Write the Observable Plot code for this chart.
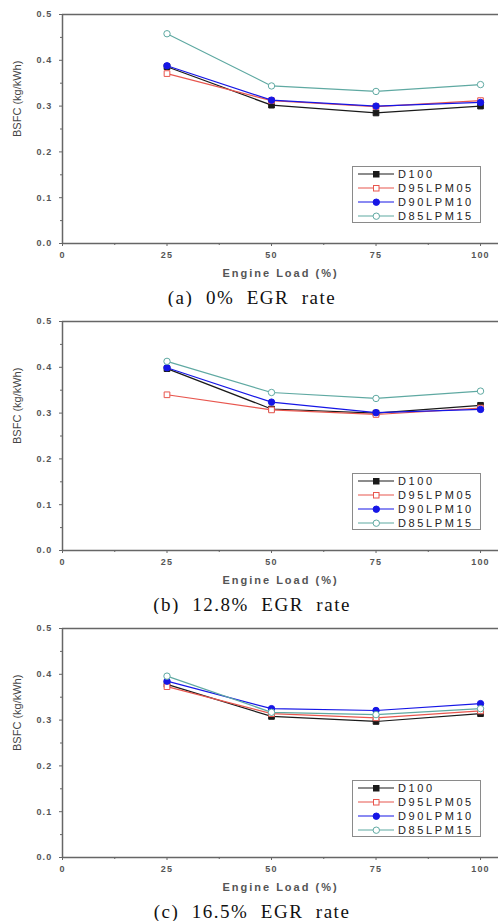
<!DOCTYPE html>
<html><head><meta charset="utf-8">
<script src="https://cdn.jsdelivr.net/npm/d3@7"></script>
<script src="https://cdn.jsdelivr.net/npm/@observablehq/plot@0.6"></script>
<style>
body{margin:0;background:#fff;width:498px;overflow:hidden}
.panel{position:relative;width:498px;height:307px;overflow:hidden}
.caption{position:absolute;left:6px;top:286px;width:492px;height:24px;line-height:24px;text-align:center;font-family:"Liberation Serif","Times New Roman",serif;font-size:19px;letter-spacing:1.5px;white-space:pre;color:#111}
.legend{position:absolute;left:352px;top:166px;width:127px;height:55px;border:1px solid #8a8a8a;background:#fff}
.legend .row{position:absolute;left:0;height:14px;width:127px}
.legend .lab{position:absolute;left:45px;top:0;height:14px;line-height:14px;font-family:"Liberation Sans",Arial,sans-serif;font-size:11px;letter-spacing:2.6px;color:#222;white-space:nowrap}
</style></head><body><div id="root"></div>
<script>
const loads = [25, 50, 75, 100];
const seriesNames = ["D100", "D95LPM05", "D90LPM10", "D85LPM15"];
const seriesColors = ["#1a1a1a", "#e8564e", "#1616e6", "#5fa9a2"];
const seriesSymbols = ["square", "square", "circle", "circle"];
const seriesFilled = [true, false, true, false];
const captions = ["(a)  0%  EGR  rate", "(b)  12.8%  EGR  rate", "(c)  16.5%  EGR  rate"];
const xTicks = [0, 25, 50, 75, 100];
const xMinorTicks = [12.5, 37.5, 62.5, 87.5];
const yTicks = [0, 0.1, 0.2, 0.3, 0.4, 0.5];
const yMinorTicks = [0.05, 0.15, 0.25, 0.35, 0.45];
const xLabel = "Engine Load (%)";
const yLabel = "BSFC (kg/kWh)";

// BSFC per series (order of seriesNames), at each load
const egr0 = [
  [0.386, 0.302, 0.285, 0.300],
  [0.371, 0.312, 0.299, 0.312],
  [0.388, 0.313, 0.300, 0.308],
  [0.458, 0.344, 0.332, 0.347]
];
const egr128 = [
  [0.397, 0.309, 0.300, 0.317],
  [0.340, 0.307, 0.297, 0.311],
  [0.399, 0.324, 0.301, 0.308],
  [0.413, 0.345, 0.332, 0.348]
];
const egr165 = [
  [0.378, 0.308, 0.297, 0.314],
  [0.373, 0.314, 0.305, 0.320],
  [0.385, 0.325, 0.321, 0.336],
  [0.396, 0.317, 0.312, 0.325]
];
const panels = [egr0, egr128, egr165];

const root = document.getElementById("root");
const axisColor = "#666";
const fmt = d3.format(".1f");

panels.forEach((panelData, pi) => {
  const div = document.createElement("div");
  div.className = "panel";
  root.appendChild(div);

  const marks = [
    Plot.ruleY([0.5], {stroke: axisColor, strokeWidth: 1.5}),
    Plot.ruleY([0], {stroke: axisColor, strokeWidth: 1.5}),
    Plot.ruleX([0], {stroke: axisColor, strokeWidth: 1.5}),
    Plot.axisX(xTicks, {tickSize: 3, tickPadding: 5, tickFormat: d => String(d), label: null, fontSize: 9, fontWeight: "bold", stroke: axisColor, fill: "#555"}),
    Plot.axisX(xMinorTicks, {tickSize: 2, tickFormat: () => "", label: null, stroke: axisColor}),
    Plot.axisY(yTicks, {tickSize: 3, tickPadding: 7, tickFormat: fmt, label: null, fontSize: 9, fontWeight: "bold", stroke: axisColor, fill: "#555"}),
    Plot.axisY(yMinorTicks, {tickSize: 2, tickFormat: () => "", label: null, stroke: axisColor}),
    Plot.text([xLabel], {frameAnchor: "bottom", dy: 30, lineAnchor: "middle", fontSize: 11, fontWeight: "bold", fill: "#555"}),
    Plot.text([yLabel], {frameAnchor: "left", rotate: -90, dx: -45, dy: 8, lineAnchor: "middle", fontSize: 11, fill: "#444"})
  ];
  seriesNames.forEach((name, si) => {
    const rows = loads.map((x, i) => ({load: x, bsfc: panelData[si][i]}));
    marks.push(Plot.line(rows, {x: "load", y: "bsfc", stroke: seriesColors[si], strokeWidth: 1.2}));
    marks.push(Plot.dot(rows, {x: "load", y: "bsfc", symbol: seriesSymbols[si], r: 3.2,
      fill: seriesFilled[si] ? seriesColors[si] : "white", stroke: seriesColors[si], strokeWidth: 1}));
  });

  const svg = Plot.plot({
    width: 498, height: 283,
    marginLeft: 62, marginRight: 0, marginTop: 14, marginBottom: 40,
    style: {fontFamily: "'Liberation Sans', Arial, sans-serif", background: "#fff", overflow: "hidden"},
    x: {domain: [0, 104.3], axis: null},
    y: {domain: [0, 0.5], axis: null},
    marks
  });
  div.appendChild(svg);
  d3.select(svg).selectAll('g[aria-label="x-axis tick label"] text').style("letter-spacing", "1.2px");
  d3.select(svg).selectAll('g[aria-label="y-axis tick label"] text').style("letter-spacing", "1.2px");
  d3.select(svg).selectAll('g[aria-label="text"] text').filter(function(){return this.textContent === xLabel;}).style("letter-spacing", "2px");

  // legend
  const leg = document.createElement("div");
  leg.className = "legend";
  div.appendChild(leg);
  seriesNames.forEach((name, si) => {
    const row = document.createElement("div");
    row.className = "row";
    row.style.top = (si * 14) + "px";
    leg.appendChild(row);
    const s = d3.select(row).append("svg").attr("width", 44).attr("height", 14).style("position", "absolute").style("left", 0).style("top", 0);
    s.append("line").attr("x1", 5).attr("x2", 41).attr("y1", 7).attr("y2", 7).attr("stroke", seriesColors[si]).attr("stroke-width", 1.2);
    const fill = seriesFilled[si] ? seriesColors[si] : "white";
    if (seriesSymbols[si] === "square") {
      s.append("rect").attr("x", 20.5).attr("y", 4.5).attr("width", 5.5).attr("height", 5.5).attr("fill", fill).attr("stroke", seriesColors[si]);
    } else {
      s.append("circle").attr("cx", 23.3).attr("cy", 7.2).attr("r", 3.2).attr("fill", fill).attr("stroke", seriesColors[si]);
    }
    const lab = document.createElement("div");
    lab.className = "lab";
    lab.textContent = name;
    row.appendChild(lab);
  });

  const cap = document.createElement("div");
  cap.className = "caption";
  cap.textContent = captions[pi];
  div.appendChild(cap);
});
</script></body></html>
